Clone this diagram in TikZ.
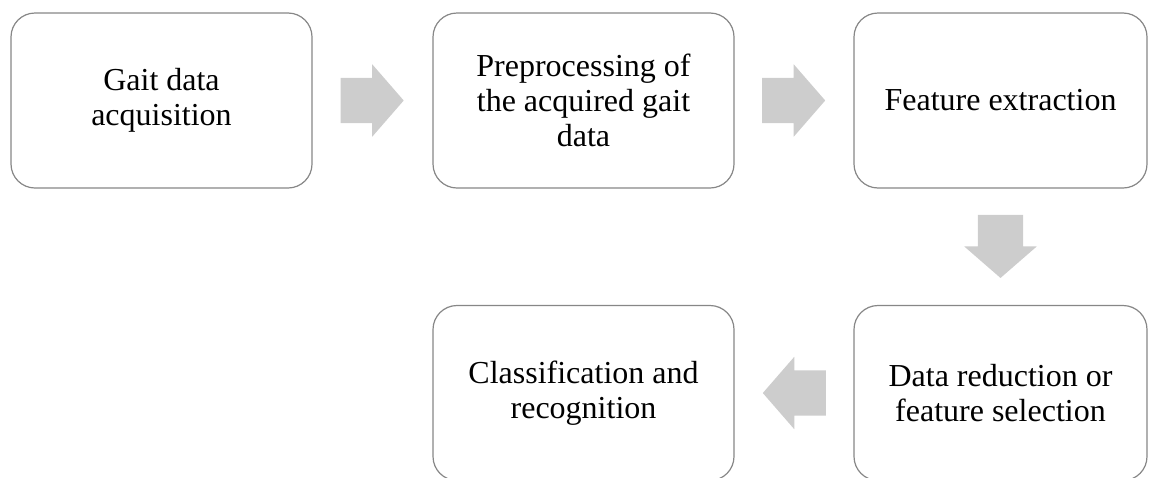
\documentclass[tikz,border=0pt]{standalone}
\usepackage{fontspec}
\setmainfont{Liberation Serif}
\usepackage{tikz}
\usetikzlibrary{positioning,calc,shapes.arrows}
\definecolor{boxline}{RGB}{135,135,135}
\definecolor{arrowgray}{RGB}{205,205,205}
\newcommand{\boxwidth}{301pt}
\newcommand{\boxheight}{175pt}
\tikzset{
  stepbox/.style={draw=boxline, line width=1.2pt, rounded corners=24pt, fill=white,
    minimum width=\boxwidth, minimum height=\boxheight, align=center,
    font=\fontsize{32}{35}\selectfont},
  flowarrow/.style={single arrow, fill=arrowgray, draw=none, anchor=tail,
    inner xsep=0pt, inner ysep=22.5pt, minimum height=63pt,
    single arrow head extend=13.5pt, single arrow tip angle=98}
}
\begin{document}
\begin{tikzpicture}[x=1pt,y=-1pt]
\clip (0,0) rectangle (1150,477);
\useasboundingbox (0,0) rectangle (1150,477);
% top row
\node[stepbox] (acq) at (161.5, 100.5) {Gait data\\acquisition};
\node[stepbox] (pre) at (583.5, 100.5) {Preprocessing of\\the acquired gait\\data};
\node[stepbox, minimum width=293pt] (feat) at (1000.5, 100.5) {Feature extraction};
% bottom row
\node[stepbox, minimum width=293pt] (red) at (1000.5, 393) {Data reduction or\\feature selection};
\node[stepbox] (cls) at (583.5, 393) {Classification and\\recognition};
% arrows
\node[flowarrow] (a1) at ($(acq.east)!0.5!(pre.west) + (-32,0)$) {};
\node[flowarrow] (a2) at ($(pre.east)!0.5!(feat.west) + (-32,0)$) {};
\node[flowarrow, rotate=-90] (a3) at ($(feat.south)!0.5!(red.north) + (0,-32)$) {};
\node[flowarrow, rotate=180] (a4) at ($(red.west)!0.5!(cls.east) + (32,0)$) {};
\end{tikzpicture}
\end{document}
